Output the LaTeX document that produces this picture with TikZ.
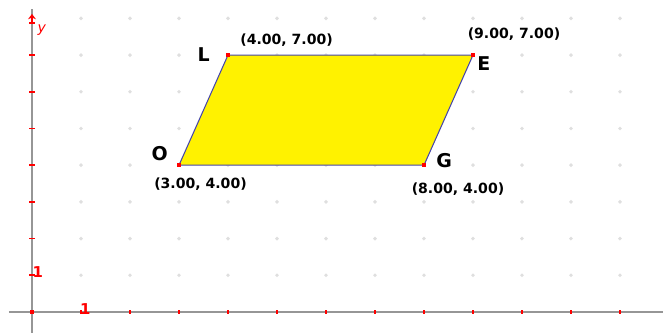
\documentclass[tikz,border=0pt]{standalone}
\usepackage{fontspec}
\setmainfont{DejaVu Sans}
\usepackage{tikz}
\usetikzlibrary{arrows.meta, positioning}
\definecolor{kantblaa}{RGB}{70,70,170}
\definecolor{aksegraa}{RGB}{150,150,150}

\begin{document}
\begin{tikzpicture}[
      x=0.98cm, y=0.734cm,
      akse/.style = {draw=aksegraa, line width=1.1pt},
      navn/.style = {font=\bfseries\fontsize{10.8}{12}\selectfont, inner sep=0pt},
      koord/.style = {font=\bfseries\fontsize{8}{9.6}\selectfont, inner sep=0pt},
      tal/.style = {text=red, font=\bfseries\fontsize{8.5}{10}\selectfont, inner sep=0pt},
      flade/.style = {fill=yellow, draw=kantblaa, line width=0.6pt}
    ]
    \useasboundingbox[fill=white] (-0.653,-0.572) rectangle (12.878,8.501);
    % gitter
    \foreach \i in {1,...,12}
      \foreach \j in {1,...,8}
        \fill[gray!25] (\i,\j) circle (1.1pt);
    % akser
    \draw[akse] (-0.47,0) -- (12.878,0);
    \draw[akse] (0,-0.572) -- (0,8.26);
    \foreach \i in {1,...,12}
      \draw[red, line width=1.1pt] (\i,-0.05) -- (\i,0.05);
    \foreach \j in {1,...,7}
      \draw[red, line width=0.9pt] (-0.06,\j) -- (0.06,\j);
    \draw[red, line width=0.9pt] (-0.06,7.88) -- (0.06,7.88);
    \draw[red, line width=0.8pt, -{Stealth[length=3pt,width=4.5pt]}] (0,7.88) -- (0,8.12);
    \fill[red] (-0.04,-0.055) rectangle (0.04,0.055);
    \node[text=red, font=\itshape\fontsize{8}{9}\selectfont, inner sep=0pt] (ylab) at (0.2,7.68) {y};
    \node[tal] (tx) at (1.09,0.08) {1};
    \node[tal] (ty) at (0.12,1.08) {1};
    % parallelogram
    \coordinate (O) at (3,4);
    \coordinate (L) at (4,7);
    \coordinate (E) at (9,7);
    \coordinate (G) at (8,4);
    \draw[flade] (O) -- (L) -- (E) -- (G) -- cycle;
    \foreach \p in {O,L,E,G}
      \fill[red] (\p) ++(-1.1pt,-1.1pt) rectangle ++(2.2pt,2.2pt);
    % etiketter
    \node[navn, left=3.6mm of L] (nL) {L};
    \node[navn, below right=0.2mm and 0.8mm of E] (nE) {E};
    \node[navn, above left=0.8mm and 2.2mm of O] (nO) {O};
    \node[navn, above right=-0.6mm and 2.4mm of G] (nG) {G};
    \node[koord, above right=1.6mm and 2.4mm of L] (kL) {(4.00, 7.00)};
    \node[koord, above=2.8mm of E, xshift=8.2mm] (kE) {(9.00, 7.00)};
    \node[koord, below=2.4mm of O, xshift=4.3mm] (kO) {(3.00, 4.00)};
    \node[koord, below=3.4mm of G, xshift=6.8mm] (kG) {(8.00, 4.00)};
\end{tikzpicture}
\end{document}
